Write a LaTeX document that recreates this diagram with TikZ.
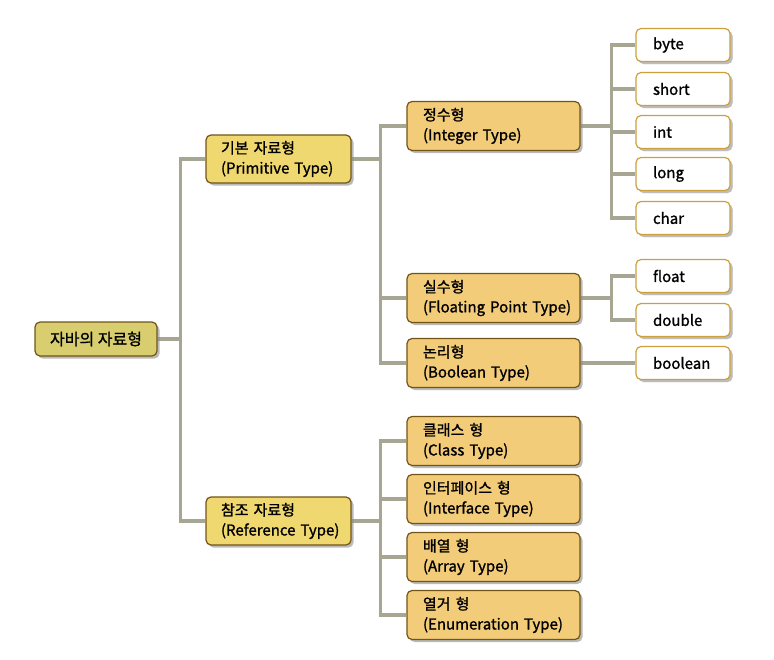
\documentclass[tikz,border=0pt]{standalone}
\usepackage{fontspec}
\setmainfont{Noto Sans CJK KR}[FakeBold=1.2]
\usetikzlibrary{positioning,shadows,backgrounds}
\definecolor{rootc}{RGB}{216,206,112}
\definecolor{lvla}{RGB}{240,216,112}
\definecolor{lvlb}{RGB}{243,204,122}
\definecolor{edgec}{RGB}{114,84,22}
\definecolor{leafe}{RGB}{205,160,60}
\definecolor{linkc}{RGB}{166,166,146}

\begin{document}
\begin{tikzpicture}[x=1pt,y=-1pt,font=\fontsize{15}{20}\selectfont,
  box/.style={draw=edgec,line width=1.2pt,rounded corners=5pt,align=left,inner ysep=0pt,
    drop shadow={shadow xshift=2.5pt,shadow yshift=-2.5pt,fill=black!45,opacity=.6}},
  roots/.style={box,fill=rootc,minimum width=122pt,minimum height=34pt,align=center,font=\fontsize{16}{20}\selectfont},
  lvlas/.style={box,fill=lvla,minimum height=48pt,inner xsep=15pt,text width=115pt},
  lvlbs/.style={box,fill=lvlb,minimum height=49pt,inner xsep=16pt,text width=141pt},
  leafs/.style={box,draw=leafe,fill=white,minimum height=33pt,inner xsep=17pt,text width=60pt,
    drop shadow={shadow xshift=2.5pt,shadow yshift=-2.5pt,fill=black!25,opacity=.6}},
  link/.style={draw=linkc,line width=3.5pt}]
  \useasboundingbox (0,0) rectangle (774,659);
  % root and level 1
  \node[roots] (root) at (96,339) {자바의 자료형};
  \node[lvlas] (prim) at (278.5,159) {기본 자료형\\(Primitive~Type)};
  \node[lvlas] (ref) at (278.5,521) {참조 자료형\\(Reference~Type)};
  % level 2
  \node[lvlbs] (int) at (493.5,126) {정수형\\(Integer~Type)};
  \node[lvlbs] (flt) at (493.5,298) {실수형\\(Floating~Point~Type)};
  \node[lvlbs] (bool) at (493.5,363) {논리형\\(Boolean~Type)};
  \node[lvlbs] (cls) at (493.5,441) {클래스 형\\(Class~Type)};
  \node[lvlbs] (ifc) at (493.5,499) {인터페이스 형\\(Interface~Type)};
  \node[lvlbs] (arr) at (493.5,557) {배열 형\\(Array~Type)};
  \node[lvlbs] (enm) at (493.5,615) {열거 형\\(Enumeration~Type)};
  % leaves
  \node[leafs] (byte) at (683,45) {byte};
  \node[leafs] (short) at (683,89) {short};
  \node[leafs] (intl) at (683,132) {int};
  \node[leafs] (long) at (683,174) {long};
  \node[leafs] (char) at (683,218) {char};
  \node[leafs] (fltl) at (683,276) {float};
  \node[leafs] (dbl) at (683,320) {double};
  \node[leafs] (booll) at (683,363) {boolean};
  % links
  \begin{scope}[on background layer]
    \foreach \a/\b in {root/prim,root/ref}
      \draw[link] (\a.east) -- ++(23,0) |- (\b.west);
    \foreach \a/\b in {prim/int,prim/flt,prim/bool,ref/cls,ref/ifc,ref/arr,ref/enm}
      \draw[link] (\a.east) -- ++(29,0) |- (\b.west);
    \foreach \a/\b in {int/byte,int/short,int/intl,int/long,int/char,flt/fltl,flt/dbl,bool/booll}
      \draw[link] (\a.east) -- ++(31,0) |- (\b.west);
  \end{scope}
\end{tikzpicture}
\end{document}
